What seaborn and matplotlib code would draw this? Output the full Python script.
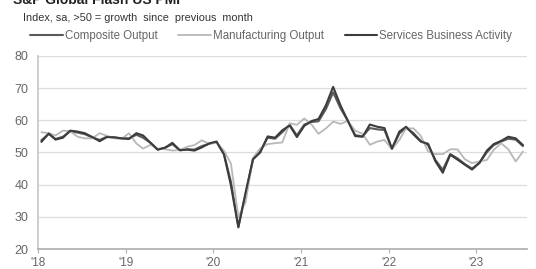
import numpy as np
import pandas as pd
import seaborn as sns
import matplotlib.dates as mdates
from matplotlib import pyplot as plt

# monthly readings, Jan 2018 .. Jul 2023
composite = [53.8, 55.8, 54.2, 54.9, 56.6, 56.2, 55.7, 54.7, 53.9, 54.9, 54.7, 54.4,
             54.4, 55.5, 54.6, 53.0, 50.9, 51.5, 52.6, 50.7, 51.0, 50.9, 52.0, 52.7,
             53.3, 49.6, 40.9, 27.0, 37.0, 47.9, 50.3, 54.6, 54.3, 56.3, 58.6, 55.3,
             58.7, 59.5, 59.7, 63.5, 68.7, 63.7, 59.9, 55.4, 55.0, 57.6, 57.2, 57.0,
             51.1, 55.9, 57.7, 56.0, 53.6, 52.3, 47.7, 44.6, 49.5, 48.2, 46.4, 45.0,
             46.8, 50.1, 52.3, 53.4, 54.3, 54.0, 52.0]
manufacturing = [56.3, 56.0, 55.3, 56.8, 56.6, 54.9, 54.4, 54.4, 56.0, 55.2, 54.4, 54.2,
                 56.0, 52.8, 51.2, 52.4, 51.2, 51.0, 50.6, 50.8, 51.8, 52.3, 53.8, 52.7,
                 53.0, 50.6, 46.6, 30.0, 34.5, 48.3, 51.3, 52.6, 52.9, 53.1, 59.1, 58.6,
                 60.6, 58.6, 55.8, 57.5, 59.6, 58.9, 59.8, 56.8, 55.8, 52.4, 53.4, 53.9,
                 51.0, 53.9, 57.5, 57.5, 55.2, 50.3, 49.5, 49.5, 51.0, 51.0, 47.9, 46.7,
                 47.2, 47.7, 50.8, 52.9, 51.0, 47.2, 50.3]
services = [53.3, 55.9, 54.0, 54.6, 56.8, 56.5, 56.0, 54.8, 53.5, 54.8, 54.7, 54.4,
            54.2, 56.0, 55.3, 53.0, 50.9, 51.5, 53.0, 50.7, 50.9, 50.6, 51.6, 52.8,
            53.4, 49.4, 39.8, 26.7, 37.5, 47.9, 50.0, 55.0, 54.6, 56.9, 58.4, 54.8,
            58.3, 59.8, 60.4, 64.7, 70.4, 64.6, 59.9, 55.1, 54.9, 58.7, 58.0, 57.6,
            51.2, 56.5, 58.0, 55.6, 53.4, 52.7, 47.3, 43.7, 49.3, 47.8, 46.2, 44.7,
            46.8, 50.6, 52.6, 53.6, 54.9, 54.4, 52.3]
labels = ['Composite Output', 'Manufacturing Output', 'Services Business Activity']
colors = ['#5a5a5a', '#b8b8b8', '#3c3c3c']

dates = pd.date_range('2018-01-01', periods=len(services), freq='MS') + pd.Timedelta(days=14)
df = pd.DataFrame({'date': np.tile(dates, 3),
                   'value': composite + manufacturing + services,
                   'series': np.repeat(labels, len(dates))})

sns.set_theme(style='white')
plt.rcParams['font.family'] = ['Liberation Sans', 'DejaVu Sans']

fig = plt.figure(figsize=(5.36, 2.69), dpi=100)
ax = fig.add_axes([38/536, 20/269, 489/536, 193/269])

sns.lineplot(data=df, x='date', y='value', hue='series', hue_order=labels,
             palette=dict(zip(labels, colors)), linewidth=1.5, ax=ax)
for line in ax.get_lines():
    if line.get_color() == colors[1]:
        line.set_linewidth(1.3)

ax.set_ylim(20, 80)
ax.set_yticks(range(20, 81, 10))
ax.set_xlim(pd.Timestamp('2018-01-01'), pd.Timestamp('2023-08-01'))
ax.xaxis.set_major_locator(mdates.YearLocator())
ax.xaxis.set_major_formatter(mdates.DateFormatter("'%y"))
ax.set_xlabel('')
ax.set_ylabel('')
ax.grid(axis='y', color='#dcdcdc', linewidth=0.9)
ax.set_axisbelow(True)
for s in ['top', 'right']:
    ax.spines[s].set_visible(False)
ax.spines['left'].set_color('#c8c8c8')
ax.spines['bottom'].set_color('#b0b0b0')
ax.tick_params(axis='y', length=0, pad=7, labelsize=9, labelcolor='#666666')
ax.tick_params(axis='x', length=3, width=0.8, color='#b0b0b0', direction='out',
               pad=3, labelsize=8.5, labelcolor='#666666', bottom=True)

handles, _ = ax.get_legend_handles_labels()
ax.get_legend().remove()
fig.legend(handles, labels, loc='center', bbox_to_anchor=(0.506, 1 - 36/269), ncol=3,
           frameon=False, fontsize=8.3, handlelength=2.8, handletextpad=0.2,
           columnspacing=1.8, labelcolor='#666666')

fig.text(13/536, 1 - 4/269, 'S&P Global Flash US PMI', fontsize=10, fontweight='bold',
         color='#222222', va='baseline')
fig.text(23/536, 1 - 21/269, 'Index, sa, >50 = growth  since  previous  month', fontsize=7.8,
         color='#333333', va='baseline')

fig.savefig('out.png', dpi=100)
